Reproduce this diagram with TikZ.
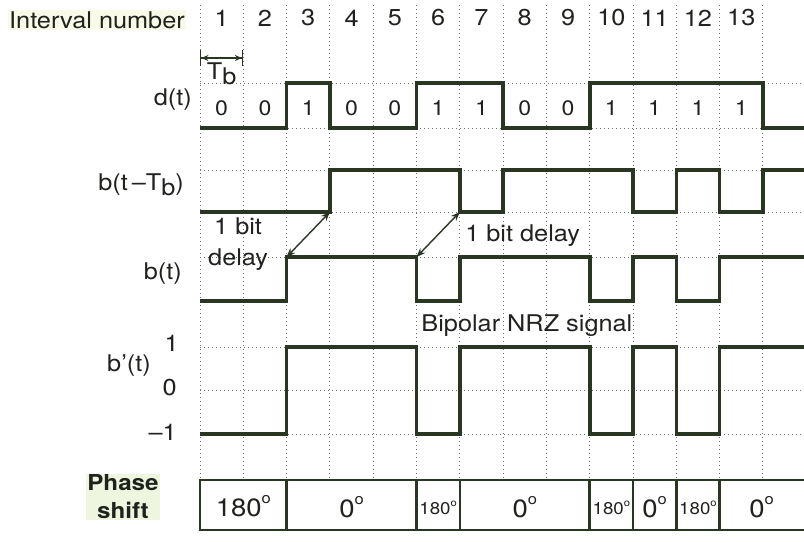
\documentclass[tikz,border=0pt]{standalone}
\usepackage{fontspec}
\setmainfont{TeX Gyre Heros}[FakeStretch=1.1]
\usetikzlibrary{arrows.meta}
\usetikzlibrary{positioning}

\definecolor{inkgreen}{RGB}{40,54,34}
\definecolor{inktext}{RGB}{32,34,30}
\definecolor{dotgray}{RGB}{110,114,108}
\definecolor{hlyellow}{RGB}{249,250,232}
\definecolor{hlgreen}{RGB}{238,246,224}
\newcommand{\dg}{\raisebox{0.5em}{\scalebox{0.6}{o}}}

\begin{document}
\begin{tikzpicture}[
  x=1pt, y=-1pt,
  every node/.style={font=\fontsize{23}{27}\selectfont, text=inktext, inner sep=1pt},
  wave/.style={draw=inkgreen, line width=3.6pt},
  gridline/.style={draw=dotgray, line width=1pt, dash pattern=on 1pt off 3pt},
  delayarrow/.style={{Stealth[length=9pt,width=7pt]}-{Stealth[length=9pt,width=7pt]}, draw=inkgreen, line width=1.4pt},
  bitval/.style={font=\fontsize{21}{24}\selectfont},
  degbig/.style={font=\fontsize{25}{28}\selectfont},
  degsmall/.style={font=\fontsize{17}{20}\selectfont},
]
\useasboundingbox (0,0) rectangle (804,542);

  % Row labels
  \node[anchor=west, fill=hlyellow] (intnum) at (8,20) {Interval number};
  \node[anchor=east] (dlbl)   at (193,100) {d(t)};
  \node[anchor=east] (btblbl) at (185,185) {b(t\,–T\raisebox{-5pt}{b})};
  \node[anchor=east] (btlbl)  at (183,274) {b(t)};
  \node[anchor=east] (bplbl)  at (152,366) {b'(t)};
  \node[anchor=east] (lvlp)   at (180,343) {1};
  \node[anchor=east] (lvlz)   at (178,388) {0};
  \node[anchor=east] (lvlm)   at (178,432) {–1};
  \node[align=center, font=\bfseries\fontsize{22}{28}\selectfont, fill=hlgreen] (phlbl) at (123,497) {Phase\\shift};

\begin{scope}[xshift=200pt, x=43.3pt]
  % Grid
  \foreach \k in {0,...,13}
    \draw[gridline] (\k,5) -- (\k,480);
  \foreach \y in {83,128,170,212,257,347,390,434}
    \draw[gridline] (0,\y) -- (13.95,\y);

  % Interval numbers and data bits
  \foreach \k in {1,...,13}
    \node (n\k) at (\k-0.5,18) {\k};
  \foreach \b [count=\k] in {0,0,1,0,0,1,1,0,0,1,1,1,1}
    \node[bitval] (d\k) at (\k-0.5,108) {\b};

  % Bit period
  \coordinate (tbl) at (0,58);
  \coordinate (tbr) at (1,58);
  \draw[{Bar[width=16pt] Stealth[length=7pt,width=6pt]}-{Stealth[length=7pt,width=6pt] Bar[width=16pt]}, draw=inkgreen, line width=1.4pt] (tbl) -- (tbr);
  \node (tb) at (0.5,74) {T\raisebox{-5pt}{b}};

  % d(t)
  \draw[wave] (0,128) -- (2,128) -- (2,83) -- (3,83) -- (3,128) -- (5,128) -- (5,83)
    -- (7,83) -- (7,128) -- (9,128) -- (9,83) -- (13,83) -- (13,128) -- (13.95,128);

  % b(t-Tb)
  \draw[wave] (0,212) -- (3,212) -- (3,170) -- (6,170) -- (6,212) -- (7,212) -- (7,170)
    -- (10,170) -- (10,212) -- (11,212) -- (11,170) -- (12,170) -- (12,212) -- (13,212)
    -- (13,170) -- (13.95,170);

  % b(t)
  \draw[wave] (0,301) -- (2,301) -- (2,257) -- (5,257) -- (5,301) -- (6,301) -- (6,257)
    -- (9,257) -- (9,301) -- (10,301) -- (10,257) -- (11,257) -- (11,301) -- (12,301)
    -- (12,257) -- (13.95,257);

  % b'(t)
  \draw[wave] (0,434) -- (2,434) -- (2,347) -- (5,347) -- (5,434) -- (6,434) -- (6,347)
    -- (9,347) -- (9,434) -- (10,434) -- (10,347) -- (11,347) -- (11,434) -- (12,434)
    -- (12,347) -- (13.95,347);

  % 1 bit delay arrows
  \coordinate (dla) at (3,212);
  \coordinate (dlb) at (2,257);
  \coordinate (dlc) at (6,212);
  \coordinate (dld) at (5,257);
  \draw[delayarrow] (dla) -- (dlb);
  \draw[delayarrow] (dlc) -- (dld);
  \node[align=center, font=\fontsize{23}{31}\selectfont] (dly1) at (0.88,244) {1 bit\\delay};
  \node[anchor=west] (dly2) at (6.1,236) {1 bit delay};
  \node (nrz) at (7.55,326) {Bipolar NRZ signal};

  % Phase shift table
  \draw[wave, line width=2.5pt] (13.95,480) -- (0,480) -- (0,530) -- (13.95,530);
  \foreach \k in {2,5,6,9,10,11,12}
    \draw[wave, line width=2.5pt] (\k,480) -- (\k,530);
  \node[degbig]   (ph1) at (1,506)     {180\dg};
  \node[degbig]   (ph2) at (3.5,507)   {0\dg};
  \node[degsmall] (ph3) at (5.5,508)   {180\dg};
  \node[degbig]   (ph4) at (7.5,507)   {0\dg};
  \node[degsmall] (ph5) at (9.5,508)   {180\dg};
  \node[degbig]   (ph6) at (10.5,507)  {0\dg};
  \node[degsmall] (ph7) at (11.5,508)  {180\dg};
  \node[degbig]   (ph8) at (12.97,507) {0\dg};
\end{scope}
\end{tikzpicture}
\end{document}
